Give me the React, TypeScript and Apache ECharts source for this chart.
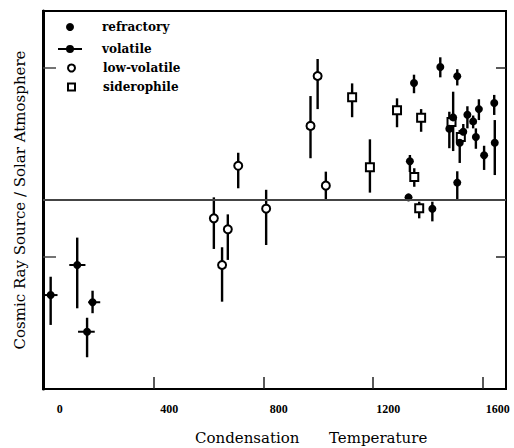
import React, { useEffect, useRef } from 'react';
import * as echarts from 'echarts';

// x: condensation temperature (K); y: log10(cosmic ray source / solar atmosphere)
const xTicks = [400, 800, 1200, 1600];
const xLabels = [0, 400, 800, 1200, 1600];
const yTicks = [-0.301, 0.699]; // log10(0.5), log10(5)

const refractoryX = [1334, 1329, 1349, 1445, 1416, 1507, 1478, 1492, 1516, 1529, 1544, 1565, 1575, 1586, 1605, 1642, 1644, 1507];
const refractoryY = [0.205, 0.014, 0.619, 0.704, -0.046, 0.655, 0.377, 0.437, 0.303, 0.361, 0.451, 0.416, 0.333, 0.481, 0.237, 0.513, 0.303, 0.092];
const refractoryLow = [0.148, 0.014, 0.565, 0.649, -0.113, 0.606, 0.274, 0.259, 0.196, 0.32, 0.379, 0.379, 0.271, 0.423, 0.159, 0.45, 0.132, 0.002];
const refractoryHigh = [0.238, 0.014, 0.663, 0.755, -0.009, 0.692, 0.467, 0.573, 0.37, 0.402, 0.496, 0.447, 0.379, 0.533, 0.287, 0.556, 0.423, 0.152];

const volatileX = [22, 119, 175, 155];
const volatileY = [-0.503, -0.344, -0.541, -0.697];
const volatileLow = [-0.661, -0.573, -0.599, -0.832];
const volatileHigh = [-0.406, -0.199, -0.48, -0.623];
const volatileXLow = [1, 90, 159, 122];
const volatileXHigh = [47, 149, 203, 183];

const lowVolatileX = [707, 618, 669, 648, 809, 971, 997, 1027];
const lowVolatileY = [0.181, -0.097, -0.155, -0.344, -0.046, 0.392, 0.656, 0.076];
const lowVolatileLow = [0.062, -0.259, -0.317, -0.538, -0.238, 0.221, 0.481, 0.004];
const lowVolatileHigh = [0.25, 0.014, -0.076, -0.25, 0.054, 0.55, 0.746, 0.15];

const siderophileX = [1123, 1188, 1287, 1375, 1350, 1368, 1486, 1520];
const siderophileY = [0.543, 0.173, 0.475, 0.435, 0.122, -0.044, 0.413, 0.333];
const siderophileLow = [0.438, 0.039, 0.385, 0.361, 0.07, -0.097, 0.386, 0.307];
const siderophileHigh = [0.617, 0.321, 0.538, 0.481, 0.168, -0.009, 0.439, 0.36];

const SERIF = 'DejaVu Serif';

function errData(xs: number[], ys: number[], lo: number[], hi: number[], xlo?: number[], xhi?: number[]) {
  return xs.map((x, i) => [x, lo[i], hi[i], xlo ? xlo[i] : x, xhi ? xhi[i] : x, ys[i]]);
}

function pts(xs: number[], ys: number[]) {
  return xs.map((x, i) => [x, ys[i]]);
}

const errRender = (params: any, api: any) => {
  const x = api.value(0);
  const lo = api.value(1);
  const hi = api.value(2);
  const xl = api.value(3);
  const xh = api.value(4);
  const y = api.value(5);
  const a = api.coord([x, lo]);
  const b = api.coord([x, hi]);
  const children: any[] = [];
  if (hi > lo) {
    children.push({
      type: 'line',
      shape: { x1: a[0], y1: a[1], x2: b[0], y2: b[1] },
      style: { stroke: '#000', lineWidth: 2.4 },
    });
  }
  if (xh > xl) {
    const c = api.coord([xl, y]);
    const d = api.coord([xh, y]);
    children.push({
      type: 'line',
      shape: { x1: c[0], y1: c[1], x2: d[0], y2: d[1] },
      style: { stroke: '#000', lineWidth: 2 },
    });
  }
  return { type: 'group', children };
};

function errSeries(name: string, data: any[]) {
  return {
    type: 'custom',
    name,
    renderItem: errRender,
    data,
    encode: { x: [0, 3, 4], y: [1, 2, 5] },
    z: 2,
    silent: true,
  };
}

const legendTextBase = { fontFamily: SERIF, fontSize: 12, fontWeight: 'bold', color: '#000' };
const volatileIcon = 'path://M0 3 H24 V5 H0 Z M8 4 A4 4 0 1 1 16 4 A4 4 0 1 1 8 4 Z';

export default function App() {
  const ref = useRef<HTMLDivElement>(null);
  useEffect(() => {
    if (!ref.current) return;
    const chart = echarts.init(ref.current, undefined, { renderer: 'svg' });
    const option: any = {
      animation: false,
      backgroundColor: '#fff',
      grid: {
        left: 43,
        right: 8,
        top: 11,
        bottom: 59,
        containLabel: false,
        show: true,
        borderColor: '#000',
        borderWidth: 2,
        backgroundColor: 'transparent',
      },
      legend: [
        {
          data: [{ name: 'refractory', icon: 'circle' }],
          left: 66, top: 21, padding: 0, itemWidth: 8, itemHeight: 8, selectedMode: false,
          textStyle: { ...legendTextBase, padding: [0, 0, 0, 23] },
        },
        {
          data: [{ name: 'volatile', icon: volatileIcon }],
          left: 58, top: 43, padding: 0, itemWidth: 24, itemHeight: 8, selectedMode: false,
          textStyle: { ...legendTextBase, padding: [0, 0, 0, 15] },
        },
        {
          data: [{ name: 'low-volatile', icon: 'circle' }],
          left: 67, top: 62, padding: 0, itemWidth: 7, itemHeight: 7, selectedMode: false,
          textStyle: { ...legendTextBase, padding: [0, 0, 0, 23] },
        },
        {
          data: [{ name: 'siderophile', icon: 'rect' }],
          left: 67, top: 81, padding: 0, itemWidth: 7, itemHeight: 7, selectedMode: false,
          textStyle: { ...legendTextBase, padding: [0, 0, 0, 23] },
        },
      ],
      xAxis: [
        {
          type: 'value',
          min: -6,
          max: 1685,
          position: 'bottom',
          axisLine: { show: true, onZero: false, lineStyle: { color: '#000', width: 2 } },
          axisTick: {
            show: true,
            inside: true,
            length: 12,
            customValues: xTicks,
            lineStyle: { color: '#222', width: 1.5 },
          },
          axisLabel: { show: false },
          splitLine: { show: false },
        },
        {
          type: 'value',
          min: -61,
          max: 1630,
          position: 'bottom',
          axisLine: { show: false },
          axisTick: { show: false },
          splitLine: { show: false },
          axisLabel: {
            show: true,
            customValues: xLabels,
            formatter: (v: number) => String(v),
            margin: 14,
            fontFamily: 'Liberation Serif',
            fontWeight: 'bold',
            fontSize: 12,
            color: '#000',
          },
        },
      ],
      yAxis: [
        {
          type: 'value',
          min: -1,
          max: 1,
          position: 'left',
          name: 'Cosmic Ray Source / Solar Atmosphere',
          nameLocation: 'middle',
          nameGap: 16,
          nameTextStyle: { fontFamily: SERIF, fontSize: 15, color: '#000' },
          axisLine: { show: true, onZero: false, lineStyle: { color: '#000', width: 3 } },
          axisTick: {
            show: true,
            inside: true,
            length: 13,
            customValues: yTicks,
            lineStyle: { color: '#444', width: 1.5 },
          },
          axisLabel: { show: false },
          splitLine: { show: false },
        },
        {
          type: 'value',
          min: -1,
          max: 1,
          position: 'right',
          axisLine: { show: true, onZero: false, lineStyle: { color: '#000', width: 2 } },
          axisTick: {
            show: true,
            inside: true,
            length: 10,
            customValues: yTicks,
            lineStyle: { color: '#222', width: 1.5 },
          },
          axisLabel: { show: false },
          splitLine: { show: false },
        },
      ],
      graphic: [
        {
          type: 'text',
          x: 195,
          y: 438,
          style: { text: 'Condensation', fontFamily: SERIF, fontSize: 15, fill: '#000', verticalAlign: 'middle', align: 'left' },
        },
        {
          type: 'text',
          x: 329,
          y: 438,
          style: { text: 'Temperature', fontFamily: SERIF, fontSize: 15, fill: '#000', verticalAlign: 'middle', align: 'left' },
        },
      ],
      series: [
        errSeries('low-volatile-err', errData(lowVolatileX, lowVolatileY, lowVolatileLow, lowVolatileHigh)),
        errSeries('siderophile-err', errData(siderophileX, siderophileY, siderophileLow, siderophileHigh)),
        errSeries('volatile-err', errData(volatileX, volatileY, volatileLow, volatileHigh, volatileXLow, volatileXHigh)),
        errSeries('refractory-err', errData(refractoryX, refractoryY, refractoryLow, refractoryHigh)),
        {
          type: 'scatter',
          name: 'low-volatile',
          data: pts(lowVolatileX, lowVolatileY),
          symbol: 'circle',
          symbolSize: 8,
          itemStyle: { color: '#fff', borderColor: '#000', borderWidth: 2, opacity: 1 },
          z: 3,
          silent: true,
        },
        {
          type: 'scatter',
          name: 'siderophile',
          data: pts(siderophileX, siderophileY),
          symbol: 'rect',
          symbolSize: 8,
          itemStyle: { color: '#fff', borderColor: '#000', borderWidth: 2, opacity: 1 },
          z: 3,
          silent: true,
        },
        {
          type: 'scatter',
          name: 'volatile',
          data: pts(volatileX, volatileY),
          symbol: 'circle',
          symbolSize: 8,
          itemStyle: { color: '#000', opacity: 1 },
          z: 3,
          silent: true,
        },
        {
          type: 'scatter',
          name: 'refractory',
          data: pts(refractoryX, refractoryY),
          symbol: 'circle',
          symbolSize: 8,
          itemStyle: { color: '#000', opacity: 1 },
          z: 3,
          silent: true,
          markLine: {
            silent: true,
            symbol: ['none', 'none'],
            label: { show: false },
            lineStyle: { color: '#444', width: 2, type: 'solid' },
            data: [{ yAxis: 0 }],
          },
        },
      ],
    };
    chart.setOption(option);
    return () => chart.dispose();
  }, []);
  return (
    <div
      ref={ref}
      style={{ position: 'absolute', left: 0, top: 0, width: 514, height: 448, background: '#fff' }}
    />
  );
}
